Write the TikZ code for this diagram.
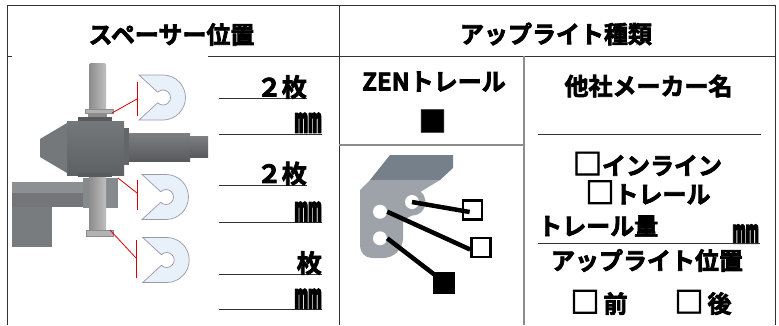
\documentclass[tikz,border=0pt]{standalone}
\usepackage{fontspec}
\usepackage{graphicx}
\newfontfamily\jpfont[FakeBold=3]{Noto Sans CJK JP Bold}
\usetikzlibrary{calc}
\newcommand\boxmark{{\fontsize{29}{29}\selectfont□}}
\newcommand\mmark{\scalebox{1.1}[1.4]{㎜}}
\definecolor{washer}{HTML}{E8F0FA}
\definecolor{washerrim}{HTML}{9C98AC}
\definecolor{body}{HTML}{6E7174}
\definecolor{arm}{HTML}{878A8D}
\definecolor{plate}{HTML}{9EA3A9}
\definecolor{platetop}{HTML}{76808A}
\begin{document}
\begin{tikzpicture}[x=1pt,y=-1pt,
	lbl/.style={font=\jpfont\fontsize{24}{24}\selectfont,inner sep=0pt},
	cnt/.style={lbl,font=\jpfont\fontsize{25}{25}\selectfont,anchor=south east},
	frame/.style={draw=black!80,line width=0.9pt},
	grayline/.style={draw=black!45,line width=1.6pt},
	redline/.style={draw=red!85!black,line width=0.8pt},
	lead/.style={line width=4.5pt},
	hole/.style={circle,fill=white,inner sep=0pt,minimum size=14pt},
	chk/.style={draw,line width=2.7pt,minimum size=19pt,inner sep=0pt}]
	\useasboundingbox (0,0) rectangle (779,325);
	\fill[white] (0,0) rectangle (779,325);
	% table lines
	\draw[frame] (7,325) -- (7,5) -- (775,5) -- (775,325);
	\draw[frame] (339,5) -- (339,325);
	\draw[frame] (7,56) -- (12,56);
	\draw[frame] (208,56) -- (775,56);
	\draw[grayline] (524,56) -- (524,325);
	\draw[grayline] (339,145) -- (524,145);
	\draw[frame] (538,134) -- (761,134);
	\node[lbl] (hdrL) at (171.5,34.5) {スペーサー位置};
	\node[lbl] (hdrR) at (556,34) {アップライト種類};
	% spacer view
	\fill[arm!95!white] (12,182) rectangle (83,193);
	\fill[arm!85!black] (12,193) rectangle (83,207);
	\fill[arm] (83,178) rectangle (118,208);
	\fill[arm!90!black] (12,207) rectangle (52,247);
	\shade[left color=black!45,right color=black!25] (89,177) rectangle (106,232);
	\filldraw[fill=black!30,draw=black!45] (86,230) rectangle (113,236);
	\shade[left color=black!45,right color=black!25,rounded corners=1.5pt] (89,63) rectangle (106,110);
	\filldraw[fill=black!30,draw=black!45] (85,109) rectangle (113,113);
	\fill[black!45] (88,113) rectangle (107,117);
	\fill[body!80!black] (78,117) rectangle (112,122);
	\shade[top color=body!95!white,bottom color=body!85!black] (67,121) rectangle (124,175);
	\fill[body!95!white] (40,139) -- (67,123) -- (67,173) -- (40,157) -- cycle;
	\fill[body!90!black] (124,128) rectangle (129,165);
	\shade[top color=body!90!white,bottom color=body!80!black] (129,133) rectangle (190,161);
	\shade[top color=body!90!white,bottom color=body!80!black] (190,136) rectangle (208,157);
	\fill[body!80!black] (78,173) rectangle (112,177);
	% washers
	\foreach \dx/\dy in {0/0,3/99.5,3.7/162.5}
		\filldraw[fill=washer,draw=washerrim,line width=0.7pt,shift={(163+\dx,97.5+\dy)}]
			(-24,-22.5) -- (0,-22.5) arc[start angle=-90,end angle=90,radius=22.5]
			-- (-24,22.5) -- (-5.3,5.3) arc[start angle=135,end angle=-135,radius=7.5] -- cycle;
	% red markers
	\foreach \i/\sx/\sy/\tx/\ty/\ta/\tb in {1/112/113/137/99/82/116,2/118/178/137/193/180/210,3/110/230/136/258/240/278}{
		\coordinate (sp\i) at (\sx,\sy);
		\coordinate (tk\i) at (\tx,\ty);
		\draw[redline] (sp\i) -- (tk\i);
		\draw[redline] (\tx,\ta) -- (\tx,\tb);
	}
	% counts
	\foreach \y/\t/\e/\b [count=\i] in {98/２枚/307/99,134/\mmark/322/133,185/２枚/307/185.5,222/\mmark/322/222,274/枚/322/275,309/\mmark/322/309}{
		\draw[frame] (219,\y) -- (\e,\y);
		\node[cnt] (cnt\i) at (\e,\b) {\t};
	}
	% ZEN trail
	\node[lbl] (zen) at (434,81.5) {ZENトレール};
	\node[lbl,font=\jpfont\fontsize{28}{28}\selectfont] (zenmark) at (432.5,121) {■};
	\fill[platetop] (390,155) -- (453,155) -- (453,168) -- (440,180) -- (370,180) -- cycle;
	\fill[plate] (370,180) -- (440,180) -- (420.7,191.7) arc[start angle=-50,end angle=90,radius=13.5]
		-- (403,220) -- (403,238) arc[start angle=0,end angle=90,radius=20]
		-- (372,258) arc[start angle=90,end angle=180,radius=12] -- (360,190) -- cycle;
	\node[hole] (h1) at (412,202) {};
	\node[hole] (h2) at (380,211.7) {};
	\node[hole] (h3) at (380,238.3) {};
	\node[chk] (sq1) at (472.5,210) {};
	\node[chk] (sq2) at (481,247.5) {};
	\node[chk,fill] (sq3) at (444,283) {};
	\draw[lead] (h1.center) -- ($(sq1.west)+(8,2)$);
	\draw[lead] (h2.east) -- ($(sq2.west)+(0,2)$);
	\draw[lead] (h3.east) -- ($(sq3.north west)+(2,3)$);
	% other makers
	\node[lbl] (maker) at (648.5,86) {他社メーカー名};
	\node[lbl] (inline) at (647.5,164) {\boxmark インライン};
	\node[lbl] (trail) at (648,192.5) {\boxmark トレール};
	\node[lbl,anchor=west] (trailamt) at (538,226) {トレール量};
	\node[lbl,anchor=east] (trailmm) at (759,234) {\mmark};
	\draw[frame] (538,243) -- (760,243);
	\node[lbl] (uppos) at (647,260.5) {アップライト位置};
	\node[lbl] (front) at (599,302.5) {\boxmark\,前};
	\node[lbl] (rear) at (703,302.5) {\boxmark\,後};
\end{tikzpicture}
\end{document}
